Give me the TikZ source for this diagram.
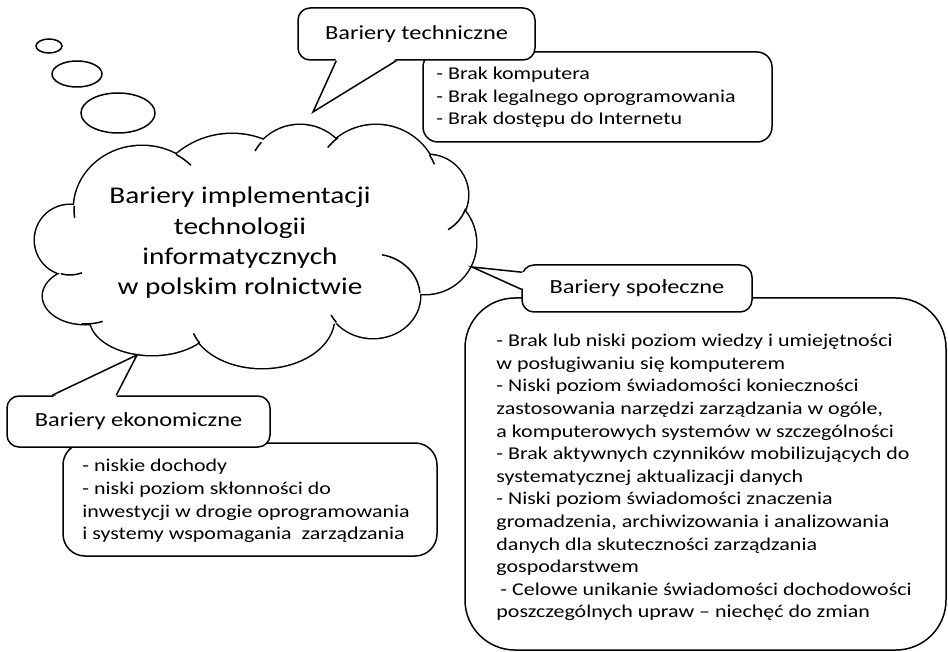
\documentclass[tikz,border=0pt]{standalone}
\usepackage{fontspec}
\setmainfont{Carlito}[FakeStretch=1.22]
\usetikzlibrary{calc}

\tikzset{
    line/.style={line width=1.5pt},
    titlebox/.style={draw, line width=1.5pt, fill=white, rounded corners=12pt,
        inner sep=0pt, font=\fontsize{20}{24}\selectfont},
    listbox/.style={draw, line width=1.5pt, fill=white, inner sep=0pt},
    listtext/.style={align=left, inner sep=0pt, anchor=west,
        font=\fontsize{18}{22.6}\selectfont},
}

\begin{document}
\begin{tikzpicture}[x=1pt,y=-1pt]
    % 画布
    \useasboundingbox (0,0) rectangle (948,652);

    % 思考气泡的小椭圆
    \draw[line] (49,46) ellipse[x radius=13, y radius=7];
    \draw[line] (77,74) ellipse[x radius=25, y radius=13];
    \draw[line] (118,113) ellipse[x radius=37, y radius=20];

    % 云朵: 粗轮廓后白色填充
    \foreach \cx/\cy/\rx/\ry in {142/209/68/63, 70/240/35/35, 85/296/42/28,
        152/318/62/37, 262/318/72/50, 373/296/47/42, 425/243/51/51,
        428/195/40/40, 376/188/63/63, 300/177/52/52, 232/220/86/86}
        \draw[line width=3pt] (\cx,\cy) ellipse[x radius=\rx, y radius=\ry];
    \foreach \cx/\cy/\rx/\ry in {142/209/68/63, 70/240/35/35, 85/296/42/28,
        152/318/62/37, 262/318/72/50, 373/296/47/42, 425/243/51/51,
        428/195/40/40, 376/188/63/63, 300/177/52/52, 232/220/86/86,
        270/245/170/85, 100/265/16/16}
        \fill[white] (\cx,\cy) ellipse[x radius=\rx, y radius=\ry];

    % 云朵内部的短弧
    \foreach \cx/\cy/\rx/\ry/\a/\b in {142/209/68/63/183/172, 142/209/68/63/-60/-44,
        300/177/52/52/222/210, 376/188/63/63/233/220, 376/188/63/63/-32/-22,
        428/195/40/40/20/60, 373/296/47/42/-4/-79, 373/296/47/42/141/153,
        262/318/72/50/150/162, 85/296/42/28/95/65, 70/240/35/35/105/70}
        \draw[line] (\cx,\cy) ++({\rx*cos(\a)},{\ry*sin(\a)})
            arc[start angle=\a, end angle=\b, x radius=\rx, y radius=\ry];

    % 云朵中的标题
    \node[align=center, font=\fontsize{24}{30.3}\selectfont] (cloudtext) at (240,243)
        {Bariery implementacji\\ technologii\\ informatycznych\\ w polskim rolnictwie};

    % 技术障碍
    \node[listbox, rounded corners=15pt, minimum width=349pt, minimum height=90pt]
        (techbox) at (597.5,97) {};
    \node[listtext] (techtext) at ($(techbox.west)+(14,0.5)$)
        {- Brak komputera\\ - Brak legalnego oprogramowania\\ - Brak dostępu do Internetu};
    \node[titlebox, minimum width=237pt, minimum height=52pt] (tech) at (416.5,34)
        {Bariery techniczne};
    \coordinate (techtip) at (313,112);
    \fill[white] ($(tech.south west)+(39,-2)$) -- (techtip) -- ($(tech.south west)+(99,-2)$) -- cycle;
    \draw[line] ($(tech.south west)+(39,0)$) -- (techtip) -- ($(tech.south west)+(99,0)$);

    % 社会障碍
    \node[listbox, rounded corners=50pt, minimum width=481pt, minimum height=352pt]
        (socialbox) at (705.5,474) {};
    \node[listtext] (socialtext) at ($(socialbox.west)+(32,3.5)$)
        {- Brak lub niski poziom wiedzy i umiejętności\\
         w posługiwaniu się komputerem\\
         - Niski poziom świadomości konieczności\\
         zastosowania narzędzi zarządzania w ogóle,\\
         a komputerowych systemów w szczególności\\
         - Brak aktywnych czynników mobilizujących do\\
         systematycznej aktualizacji danych\\
         - Niski poziom świadomości znaczenia\\
         gromadzenia, archiwizowania i analizowania\\
         danych dla skuteczności zarządzania\\
         gospodarstwem\\
         \hspace*{4pt}- Celowe unikanie świadomości dochodowości\\
         poszczególnych upraw -- niechęć do zmian};
    \node[titlebox, minimum width=230pt, minimum height=47pt] (social) at (637,288.5)
        {Bariery społeczne};
    \coordinate (socialtip) at (472,267);
    \fill[white] ($(social.north west)+(3,8)$) -- (socialtip) -- ($(social.north west)+(3,25)$) -- cycle;
    \draw[line] ($(social.north west)+(1,8)$) -- (socialtip) -- ($(social.north west)+(0,25)$);

    % 经济障碍
    \node[listbox, rounded corners=22pt, minimum width=374pt, minimum height=113pt]
        (econbox) at (250,499.5) {};
    \node[listtext] (econtext) at ($(econbox.west)+(20,1.5)$)
        {- niskie dochody\\ - niski poziom skłonności do\\
         inwestycji w drogie oprogramowania\\ i systemy wspomagania\ \ zarządzania};
    \node[titlebox, minimum width=263pt, minimum height=51pt] (econ) at (138.5,421.5)
        {Bariery ekonomiczne};
    \coordinate (econtip) at (137,355);
    \fill[white] ($(econ.north west)+(46,2)$) -- (econtip) -- ($(econ.north west)+(110,2)$) -- cycle;
    \draw[line] ($(econ.north west)+(46,0)$) -- (econtip) -- ($(econ.north west)+(110,0)$);

\end{tikzpicture}
\end{document}
